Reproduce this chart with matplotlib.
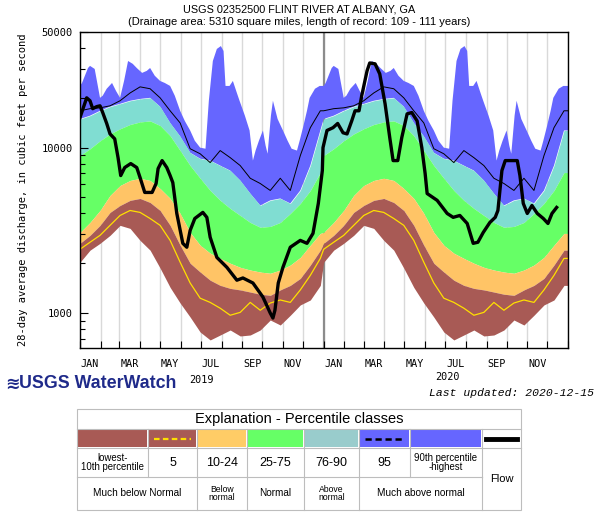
import numpy as np
import matplotlib
matplotlib.use('Agg')
import matplotlib.pyplot as plt
import matplotlib.dates as mdates
from matplotlib.patches import Rectangle
from matplotlib.ticker import FixedLocator, NullFormatter, FuncFormatter

# ---------------- data ----------------
# daily-percentile climatology (day of year), cfs
clim_doy = [0, 15, 30, 45, 60, 75, 90, 105, 120, 135, 150, 165, 180,
            195, 210, 225, 240, 255, 270, 285, 300, 315, 330, 345, 360]
min_cfs = [2030, 2400, 2640, 2950, 3390, 3250, 2750, 2400, 1870, 1430, 1150, 946, 768,
           688, 737, 790, 727, 737, 790, 908, 847, 970, 1120, 1200, 1470]
p5_cfs = [2430, 2680, 2950, 3390, 3890, 4170, 4060, 3730, 3390, 2750, 2030, 1520, 1230,
          1160, 1070, 970, 1010, 1160, 1040, 1150, 1200, 1160, 1380, 1690, 2140]
p10_cfs = [2640, 2950, 3390, 4060, 4470, 4800, 4930, 4660, 4170, 3390, 2570, 2000, 1770,
           1580, 1470, 1410, 1380, 1340, 1300, 1280, 1380, 1470, 1620, 1950, 2400]
p25_cfs = [3070, 3530, 4170, 5140, 5900, 6330, 6530, 6330, 5660, 4930, 4000, 3070, 2570,
           2300, 2140, 2000, 1890, 1820, 1770, 1740, 1820, 1950, 2170, 2570, 3030]
p75_cfs = [8950, 9850, 11000, 12100, 13000, 13800, 14300, 14500, 13600, 11800, 9600, 7790, 6530,
           5510, 4800, 4290, 3890, 3530, 3300, 3340, 3530, 4000, 4600, 5510, 7070]
p90_cfs = [14900, 15600, 16700, 17700, 18400, 19200, 19700, 20000, 17700, 14100, 11700, 9320, 8580,
           8350, 7790, 7270, 6330, 5280, 4470, 4800, 4930, 4600, 5510, 7790, 12700]
p95_cfs = [16700, 17200, 17400, 17900, 19200, 21400, 23300, 22700, 20000, 16700, 14100, 9850, 9180,
           8120, 9600, 8700, 7790, 6530, 6070, 5510, 6530, 5510, 8950, 13200, 16700]
max_doy = [0, 3, 12, 15, 22, 30, 34, 40, 48, 54, 60, 66, 72, 79, 85, 93, 100, 105, 112, 120,
           127, 135, 142, 150, 157, 165, 172, 180, 188, 193, 199, 205, 211, 215, 218, 224, 229,
           235, 239, 247, 254, 259, 263, 268, 274, 278, 281, 286, 289, 296, 304, 311, 317, 325,
           329, 334, 340, 344, 352, 359]
max_cfs = [23600, 24600, 30300, 31200, 29900, 20000, 20600, 22700, 24600, 22000, 20000, 25300,
           33400, 32100, 30300, 28300, 29100, 30300, 27200, 25300, 24600, 23600, 20600, 16700,
           14500, 12700, 11000, 10000, 9850, 19200, 33400, 39500, 41100, 38400, 23600, 23600,
           25300, 21400, 19200, 15600, 12700, 8350, 9600, 11000, 12700, 10300, 9180, 15600,
           19200, 14900, 12700, 11000, 9850, 9600, 11000, 13200, 16700, 20000, 22700, 23600]

# observed 28-day average flow: days since 2019-01-01, cfs
flow_day = [0, 10, 15, 19, 25, 30, 34, 40, 45, 52, 57, 61, 67, 76, 85, 90, 97, 108, 114, 117,
            123, 130, 135, 139, 145, 154, 160, 165, 172, 184, 190, 195, 205, 220, 235, 244, 259,
            274, 285, 289, 292, 297, 304, 315, 330, 340, 349, 357, 363, 364, 370, 379, 386, 394,
            400, 407, 412, 418, 422, 430, 434, 442, 449, 457, 464, 469, 476, 482, 490, 497, 505,
            512, 517, 520, 535, 550, 559, 569, 580, 589, 596, 604, 614, 622, 626, 632, 637, 655,
            659, 664, 670, 677, 685, 694, 701, 707, 714]
flow_cfs = [15200, 20000, 19200, 17200, 17700, 17900, 16300, 14000, 12100, 11300, 8700, 6780,
            7580, 8010, 7580, 6590, 5360, 5360, 6070, 7470, 8350, 7580, 6780, 6150, 4000, 2640,
            2500, 3160, 3730, 4060, 3790, 2870, 2170, 1890, 1580, 1630, 1520, 1250, 1000, 933,
            1040, 1520, 1890, 2500, 2750, 2640, 3030, 4600, 7270, 10000, 12700, 13200, 14000,
            12300, 12100, 14500, 16700, 16700, 20600, 29100, 32500, 32100, 27900, 18400, 11500,
            8350, 8350, 11500, 16000, 16300, 14500, 10000, 6970, 5280, 4800, 4000, 3790, 3890,
            3480, 2640, 2680, 3070, 3530, 3790, 4170, 7270, 8350, 8350, 6780, 4600, 4000, 4470,
            4000, 3730, 3480, 4000, 4350]

month_labels = ['JAN', 'MAR', 'MAY', 'JUL', 'SEP', 'NOV']
year_labels = ['2019', '2020']
y_tick_values = [1000, 10000, 50000]

# legend table content
legend_pct = ['lowest-\n10th percentile', '5', '10-24', '25-75', '76-90', '95',
              '90th percentile\n-highest']
legend_class = ['Much below Normal', 'Below\nnormal', 'Normal', 'Above\nnormal',
                'Much above normal']

# ---------------- colors ----------------
C_BROWN = '#A85A55'
C_ORANGE = '#FFC466'
C_GREEN = '#66FF66'
C_TEAL = '#80DDD2'
C_BLUE = '#6666FF'
C_YELLOW = '#FFE000'

W, H = 598, 517
fig = plt.figure(figsize=(W / 100, H / 100), dpi=100)

# axes in pixel geometry
L, R, T, B = 80, 568, 32, 348
ax = fig.add_axes([L / W, 1 - B / H, (R - L) / W, (B - T) / H])

start_years = [np.datetime64('2019-01-01'), np.datetime64('2020-01-01')]
t0 = np.datetime64('2019-01-01')
t_end = np.datetime64('2021-01-01')


def tile(doy, vals):
    d = [s + np.asarray(doy).astype('timedelta64[D]') for s in start_years]
    d = np.concatenate(d + [np.array([t_end])])
    v = np.concatenate([vals, vals, [vals[-1]]])
    return mdates.date2num(d), v


xc, vmin = tile(clim_doy, min_cfs)
_, v5 = tile(clim_doy, p5_cfs)
_, v10 = tile(clim_doy, p10_cfs)
_, v25 = tile(clim_doy, p25_cfs)
_, v75 = tile(clim_doy, p75_cfs)
_, v90 = tile(clim_doy, p90_cfs)
_, v95 = tile(clim_doy, p95_cfs)
xm, vmax = tile(max_doy, max_cfs)

xf = mdates.date2num(t0 + np.asarray(flow_day).astype('timedelta64[D]'))

# gridlines at month starts
month_starts = mdates.date2num(np.arange(np.datetime64('2019-01'), np.datetime64('2021-02'),
                                         np.timedelta64(1, 'M')).astype('datetime64[D]'))
for m in month_starts:
    ax.axvline(m, color='#d9d9d9', lw=1.0, zorder=0)
ax.axvline(mdates.date2num(np.datetime64('2020-01-01')), color='#8c8c8c', lw=1.6, zorder=0.5)

# bands
ax.fill(np.concatenate([xm, xc[::-1]]), np.concatenate([vmax, v90[::-1]]),
        color=C_BLUE, lw=0, zorder=1)
ax.fill_between(xc, v75, v90, color=C_TEAL, lw=0, zorder=1)
ax.fill_between(xc, v25, v75, color=C_GREEN, lw=0, zorder=1)
ax.fill_between(xc, v10, v25, color=C_ORANGE, lw=0, zorder=1)
ax.fill_between(xc, vmin, v10, color=C_BROWN, lw=0, zorder=1)
ax.plot(xc, v5, color=C_YELLOW, lw=0.9, zorder=2)
ax.plot(xc, v95, color='black', lw=0.7, zorder=2)
ax.plot(xf, flow_cfs, color='black', lw=2.4, zorder=3, solid_joinstyle='round')

ax.set_yscale('log')
ax.set_ylim(615, 50000)
ax.set_xlim(mdates.date2num(t0), mdates.date2num(t_end))

# y ticks
ax.yaxis.set_major_locator(FixedLocator(y_tick_values))
ax.yaxis.set_major_formatter(FuncFormatter(lambda v, p: f'{int(v)}'))
minor_y = [v * k for v in (100, 1000, 10000) for k in range(2, 10)]
ax.yaxis.set_minor_locator(FixedLocator(minor_y))
ax.yaxis.set_minor_formatter(NullFormatter())
ax.tick_params(axis='y', which='major', direction='in', length=6, width=0.8,
               labelsize=7.5, pad=5, left=True, right=False)
ax.tick_params(axis='y', which='minor', direction='in', length=3.5, width=0.8,
               left=True, right=False)
for lab in ax.get_yticklabels():
    lab.set_family('DejaVu Sans Mono')

# x ticks
ax.xaxis.set_major_locator(mdates.MonthLocator())
ax.xaxis.set_major_formatter(NullFormatter())
ax.xaxis.set_minor_locator(mdates.MonthLocator(bymonth=[1, 3, 5, 7, 9, 11], bymonthday=16))
ax.xaxis.set_minor_formatter(FuncFormatter(lambda x, p: month_labels[(mdates.num2date(x).month - 1) // 2]))
ax.tick_params(axis='x', which='major', direction='in', length=5, width=0.8, top=False)
ax.tick_params(axis='x', which='minor', length=0, labelsize=7.3, pad=8)
for lab in ax.get_xticklabels(minor=True):
    lab.set_family('DejaVu Sans Mono')

for s in ax.spines.values():
    s.set_linewidth(1.0)
    s.set_color('black')

ax.set_ylabel('28-day average discharge, in cubic feet per second', family='DejaVu Sans Mono',
              fontsize=7.5, labelpad=10)

# titles
fig.text(0.5, 1 - 10 / H, 'USGS 02352500 FLINT RIVER AT ALBANY, GA',
         ha='center', va='center', family='Liberation Sans', fontsize=7.8)
fig.text(0.5, 1 - 22 / H,
         '(Drainage area: 5310 square miles, length of record: 109 - 111 years)',
         ha='center', va='center', family='Liberation Sans', fontsize=8.0)

# year labels
fig.text(201 / W, 1 - 380 / H, year_labels[0], ha='center', va='center',
         family='DejaVu Sans Mono', fontsize=7.3)
fig.text(447 / W, 1 - 377 / H, year_labels[1], ha='center', va='center',
         family='DejaVu Sans Mono', fontsize=7.3)

# logo
fig.text(5 / W, 1 - 384 / H, '\u224b', ha='left', va='center', color='#1f2a8a',
         family='DejaVu Sans', fontsize=12.5, fontweight='bold')
fig.text(19 / W, 1 - 384 / H, 'USGS WaterWatch', ha='left', va='center', color='#1f2a8a',
         family='Liberation Sans', fontsize=12.8, fontweight='bold')

fig.text(594 / W, 1 - 393 / H, 'Last updated: 2020-12-15', ha='right', va='center',
         family='Liberation Mono', style='italic', fontsize=8.2)

# ---------------- legend table (pixel coords) ----------------
lg = fig.add_axes([0, 0, 1, 1])
lg.set_xlim(0, W)
lg.set_ylim(H, 0)
lg.axis('off')

cols = [77, 148, 197, 247, 304, 359, 410, 482, 521]
r_title, r_color, r_pct, r_cls, r_end = 409, 429, 448, 477, 510
edge = '#bdbdbd'

swatch_colors = [C_BROWN, C_BROWN, '#FFCC66', C_GREEN, '#99CCCC', C_BLUE, C_BLUE, 'white']
for i, c in enumerate(swatch_colors):
    lg.add_patch(Rectangle((cols[i] + 1, r_color + 1), cols[i + 1] - cols[i] - 2,
                           r_pct - r_color - 2, facecolor=c, edgecolor='none'))
# line samples
lg.plot([cols[1] + 6, cols[2] - 6], [438.5, 438.5], color=C_YELLOW, lw=1.6, ls=(0, (2.5, 1.5)))
lg.plot([cols[5] + 6, cols[6] - 6], [438.5, 438.5], color='black', lw=1.8, ls=(0, (2.5, 1.5)))
lg.plot([cols[7] + 4, cols[8] - 4], [438.5, 438.5], color='black', lw=3.5)

# grid lines of the table
lw_t = 0.8
lg.add_patch(Rectangle((cols[0], r_title), cols[-1] - cols[0], r_end - r_title,
                       facecolor='none', edgecolor=edge, lw=lw_t))
for y in (r_color, r_pct):
    lg.plot([cols[0], cols[-1]], [y, y], color=edge, lw=lw_t)
lg.plot([cols[0], cols[7]], [r_cls, r_cls], color=edge, lw=lw_t)
for i in range(1, 8):
    lg.plot([cols[i], cols[i]], [r_color, r_cls], color=edge, lw=lw_t)
for i in (2, 3, 4, 5, 7):
    lg.plot([cols[i], cols[i]], [r_cls, r_end], color=edge, lw=lw_t)

lg.text((cols[0] + cols[-1]) / 2, (r_title + r_color) / 2 + 0.5, 'Explanation - Percentile classes',
        ha='center', va='center', family='Liberation Sans', fontsize=10.5)
pct_sizes = [6.9, 9, 9, 9, 9, 9, 6.9]
for i, t in enumerate(legend_pct):
    lg.text((cols[i] + cols[i + 1]) / 2, (r_pct + r_cls) / 2, t, ha='center', va='center',
            family='Liberation Sans', fontsize=pct_sizes[i], linespacing=0.85)
lg.text((cols[7] + cols[8]) / 2, (r_pct + r_end) / 2, 'Flow', ha='center', va='center',
        family='Liberation Sans', fontsize=8)
cls_spans = [(0, 2), (2, 3), (3, 4), (4, 5), (5, 7)]
cls_sizes = [7.2, 6.2, 7.2, 6.2, 7.2]
for (a, b), t, s in zip(cls_spans, legend_class, cls_sizes):
    lg.text((cols[a] + cols[b]) / 2, (r_cls + r_end) / 2, t, ha='center', va='center',
            family='Liberation Sans', fontsize=s, linespacing=0.8)

fig.savefig('out.png', dpi=100)
